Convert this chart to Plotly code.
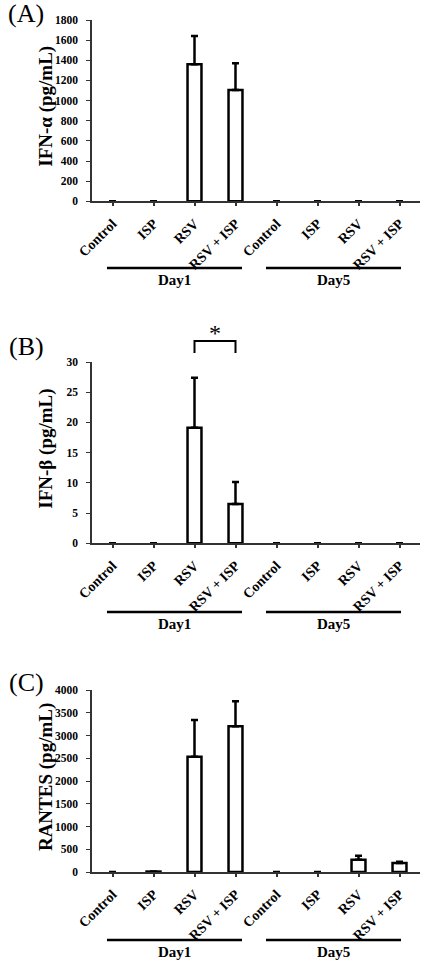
import plotly.graph_objects as go

categories = ["Control", "ISP", "RSV", "RSV + ISP", "Control ", "ISP ", "RSV ", "RSV + ISP "]
tick_text = ["Control", "ISP", "RSV", "RSV + ISP", "Control", "ISP", "RSV", "RSV + ISP"]

ifn_a_mean = [0, 0, 1360, 1105, 0, 0, 0, 0]
ifn_a_upper = [0, 0, 1640, 1370, 0, 0, 0, 0]

ifn_b_mean = [0, 0, 19.1, 6.5, 0, 0, 0, 0]
ifn_b_upper = [0, 0, 27.4, 10.15, 0, 0, 0, 0]

rantes_mean = [0, 10, 2534, 3205, 0, 0, 270, 200]
rantes_upper = [0, 10, 3340, 3755, 0, 0, 355, 225]

panels = [
    dict(mean=ifn_a_mean, upper=ifn_a_upper, title="IFN-α (pg/mL)", rng=[0, 1800], dtick=200, label="(A)"),
    dict(mean=ifn_b_mean, upper=ifn_b_upper, title="IFN-β (pg/mL)", rng=[0, 30], dtick=5, label="(B)"),
    dict(mean=rantes_mean, upper=rantes_upper, title="RANTES (pg/mL)", rng=[0, 4000], dtick=500, label="(C)"),
]

H = 977.0
W = 427.0
FONT = "Liberation Serif"

# pixel geometry for each panel: (top, zero)
geo = [(20, 201.3), (362, 543.3), (690, 872)]
x_left, x_right = 92, 420

fig = go.Figure()
layout = dict(
    width=427, height=977,
    margin=dict(l=0, r=0, t=0, b=0, autoexpand=False),
    paper_bgcolor="white", plot_bgcolor="white",
    showlegend=False,
    font=dict(family=FONT, color="black"),
    bargap=0.66,
)
shapes = []
annotations = []

for i, p in enumerate(panels):
    n = "" if i == 0 else str(i + 1)
    xa = "x" + n
    ya = "y" + n
    err = [u - m for u, m in zip(p["upper"], p["mean"])]
    line_w = [2.5 if m > 0 else 0 for m in p["mean"]]
    fig.add_trace(go.Bar(
        x=categories, y=p["mean"], xaxis=xa, yaxis=ya,
        marker=dict(color="white", line=dict(color="black", width=line_w)),
        error_y=dict(type="data", array=err, arrayminus=[0] * len(err), symmetric=False,
                     color="black", thickness=2.5, width=3.5),
        hoverinfo="x+y",
    ))
    top, zero = geo[i]
    y0 = 1 - zero / H
    y1 = 1 - top / H
    layout["xaxis" + n] = dict(
        domain=[x_left / W, x_right / W], anchor=ya, automargin=False,
        tickmode="array", tickvals=categories, ticktext=tick_text,
        tickangle=-45, tickfont=dict(family=FONT, size=14, color="black", weight="bold"),
        showline=True, linecolor="#333", linewidth=1.5, ticks="outside", ticklen=3,
        tickwidth=1.5, tickcolor="#333", ticklabelstandoff=4, showgrid=False,
        range=[-0.5, 7.5], fixedrange=True,
    )
    layout["yaxis" + n] = dict(
        domain=[y0, y1], anchor=xa, range=p["rng"], dtick=p["dtick"], automargin=False,
        tickfont=dict(family=FONT, size=11.5, color="black", weight="bold"),
        showline=True, linecolor="#333", linewidth=1.5, ticks="outside", ticklen=4,
        tickcolor="#333", ticklabelstandoff=6, showgrid=False, zeroline=False,
    )
    # y-axis title
    annotations.append(dict(text=p["title"], x=46 / W, y=(y0 + y1) / 2 + 0.004, xref="paper", yref="paper",
                            textangle=-90, showarrow=False,
                            font=dict(family=FONT, size=19, color="black", weight="bold"),
                            xanchor="center", yanchor="middle"))
    # panel label
    label_y = [13, 346, 682][i]
    annotations.append(dict(text=p["label"], x=26 / W, y=1 - label_y / H, xref="paper", yref="paper",
                            showarrow=False, font=dict(family=FONT, size=26, color="black"),
                            xanchor="center", yanchor="middle"))
    # day group lines and labels
    line_y = [268, 612, 940][i]
    for (xa0, xa1, lab) in [(107, 242, "Day1"), (266, 401, "Day5")]:
        shapes.append(dict(type="line", xref="paper", yref="paper",
                           x0=xa0 / W, x1=xa1 / W, y0=1 - line_y / H, y1=1 - line_y / H,
                           line=dict(color="black", width=2.5)))
        annotations.append(dict(text=lab, x=(xa0 + xa1) / 2 / W, y=1 - (line_y + 12) / H,
                                xref="paper", yref="paper", showarrow=False,
                                font=dict(family=FONT, size=15, color="black", weight="bold"),
                                xanchor="center", yanchor="middle"))

# significance bracket on panel B
br_top = 1 - 341 / H
br_bot = 1 - 353 / H
shapes.append(dict(type="path", xref="x2", yref="paper",
                   path=f"M 2,{br_bot} L 2,{br_top} L 3,{br_top} L 3,{br_bot}",
                   line=dict(color="black", width=2)))
annotations.append(dict(text="*", x=2.5, y=1 - 333 / H, xref="x2", yref="paper", showarrow=False,
                        font=dict(family=FONT, size=24, color="black"), xanchor="center", yanchor="middle"))

layout["shapes"] = shapes
layout["annotations"] = annotations
fig.update_layout(**layout)
fig.write_html("out.html")
